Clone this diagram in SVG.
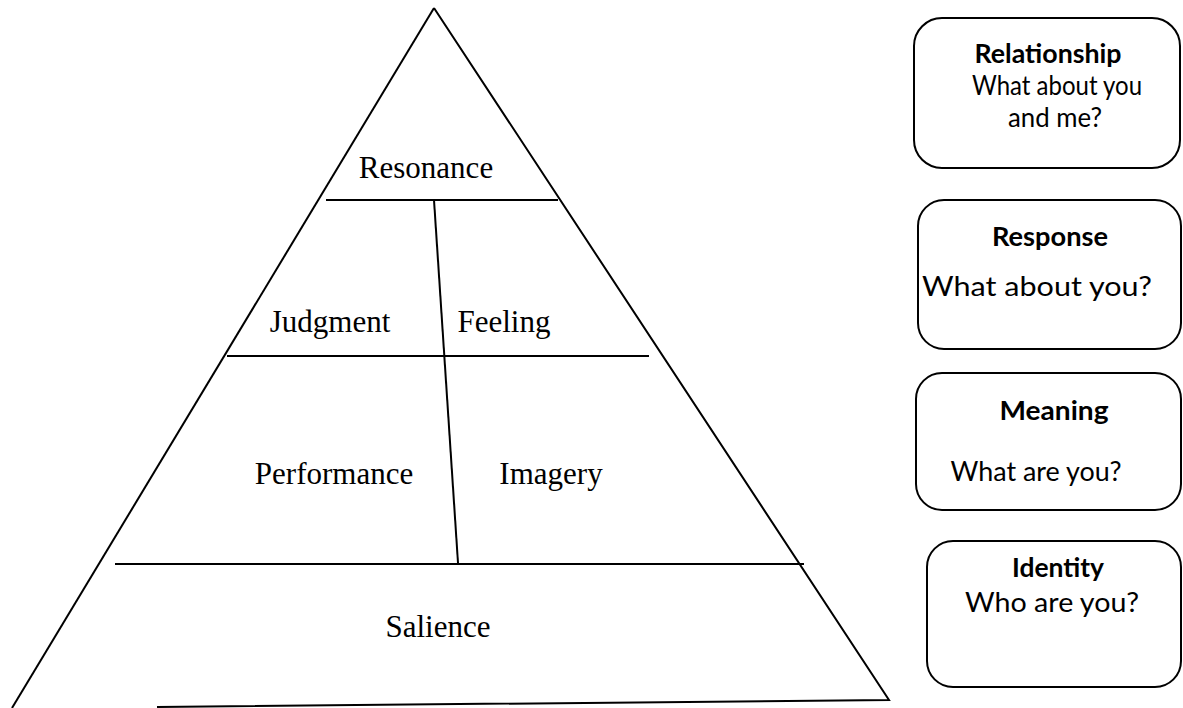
<svg xmlns="http://www.w3.org/2000/svg" width="1183" height="708" viewBox="0 0 1183 708">
<style>
.ln{stroke:#000;stroke-width:2;fill:none;stroke-linecap:butt}
.pt{font-family:"Liberation Serif","Times New Roman",serif;font-size:31px;fill:#000;text-anchor:middle}
.box{fill:#fff;stroke:#000;stroke-width:2}
.bt{font-family:Lato,"Open Sans",sans-serif;font-size:26px;fill:#000;text-anchor:middle}
.bb{font-family:Lato,"Open Sans",sans-serif;font-size:27px;font-weight:bold;fill:#000;text-anchor:middle}
</style>
<rect width="1183" height="708" fill="#fff"/>
<g id="connectors">
<path class="ln" d="M434,8 L12,708"/>
<path class="ln" d="M434,8 L889,700 L157,707"/>
<line class="ln" x1="326" y1="200" x2="558" y2="200"/>
<line class="ln" x1="227" y1="356" x2="649" y2="356"/>
<line class="ln" x1="115" y1="564" x2="804" y2="564"/>
<line class="ln" x1="434" y1="200" x2="458" y2="563"/>
</g>
<g id="resonance"><text class="pt" x="426" y="178">Resonance</text></g>
<g id="judgment"><text class="pt" x="330" y="332">Judgment</text></g>
<g id="feeling"><text class="pt" x="504" y="332">Feeling</text></g>
<g id="performance"><text class="pt" x="334" y="484">Performance</text></g>
<g id="imagery"><text class="pt" x="551" y="484">Imagery</text></g>
<g id="salience"><text class="pt" x="438" y="637">Salience</text></g>
<g id="relationship">
<rect class="box" x="914" y="18" width="266" height="150" rx="28"/>
<text class="bb" x="1048" y="63" textLength="147" lengthAdjust="spacingAndGlyphs">Relationship</text>
<text class="bt" x="1057" y="95" textLength="170" lengthAdjust="spacingAndGlyphs">What about you</text>
<text class="bt" x="1055" y="127" textLength="94" lengthAdjust="spacingAndGlyphs">and me?</text>
</g>
<g id="response">
<rect class="box" x="918" y="200" width="263" height="149" rx="26"/>
<text class="bb" x="1050" y="246" textLength="116" lengthAdjust="spacingAndGlyphs">Response</text>
<text class="bt" x="1037" y="296" textLength="230" lengthAdjust="spacingAndGlyphs">What about you?</text>
</g>
<g id="meaning">
<rect class="box" x="916" y="373" width="265" height="137" rx="26"/>
<text class="bb" x="1054" y="420" textLength="109" lengthAdjust="spacingAndGlyphs">Meaning</text>
<text class="bt" x="1036" y="481" textLength="171" lengthAdjust="spacingAndGlyphs">What are you?</text>
</g>
<g id="identity">
<rect class="box" x="927" y="541" width="254" height="146" rx="26"/>
<text class="bb" x="1058" y="577" textLength="92" lengthAdjust="spacingAndGlyphs">Identity</text>
<text class="bt" x="1052" y="612" textLength="174" lengthAdjust="spacingAndGlyphs">Who are you?</text>
</g>
</svg>
